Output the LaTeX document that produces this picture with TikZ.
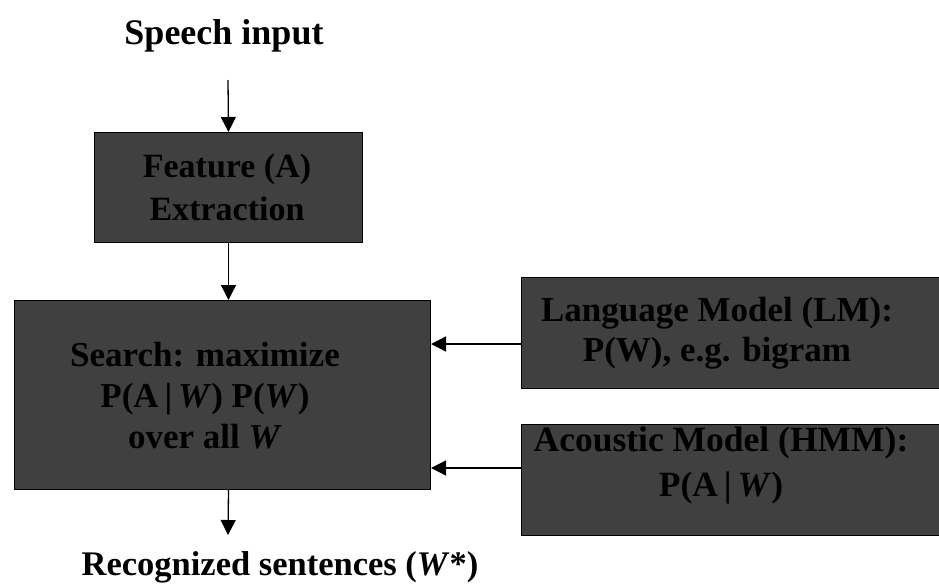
\documentclass[tikz,border=0pt]{standalone}
\usepackage{fontspec}
\setmainfont{Liberation Serif}
\usetikzlibrary{positioning,arrows.meta}
\definecolor{boxgray}{RGB}{64,64,64}

\begin{document}
\begin{tikzpicture}[x=1pt,y=-1pt,
    box/.style={draw=black, fill=boxgray, line width=1pt, anchor=north west, inner sep=0pt},
    lbl/.style={font=\fontsize{35}{41}\selectfont\bfseries, align=center, inner sep=0pt},
    arr/.style={line width=1.3pt, -{Triangle[width=15pt,length=15pt]}}]
	\useasboundingbox (0,0) rectangle (939,587);
	\clip (0,0) rectangle (939,587);
	% boxes
	\node[box, minimum width=268pt, minimum height=110pt] (feat) at (94,132) {};
	\node[box, minimum width=416pt, minimum height=189pt] (search) at (14,300) {};
	\node[box, minimum width=480pt, minimum height=111pt] (lm) at (521,277) {};
	\node[box, minimum width=480pt, minimum height=111pt] (am) at (521,424) {};
	% texts
	\node[lbl, font=\fontsize{36}{42}\selectfont\bfseries] (speech) at (224,36) {Speech input};
	\node[lbl, font=\fontsize{34}{43}\selectfont\bfseries] (feattxt) at (227,187) {Feature (A)\\Extraction};
	\node[lbl] (searchtxt) at (205,396) {Search: maximize\\P(A\,|\,\textit{W}) P(\textit{W})\\over all \textit{W}};
	\node[lbl, font=\fontsize{35}{40}\selectfont\bfseries] (lmtxt) at (717,333) {Language Model (LM):\\P(W), e.g. bigram};
	\node[lbl, font=\fontsize{35.5}{45}\selectfont\bfseries] (amtxt) at (721,466) {Acoustic Model (HMM):\\P(A\,|\,\textit{W})};
	\node[lbl, font=\fontsize{34.5}{40}\selectfont\bfseries] (recog) at (280,567) {Recognized sentences (\textit{W}*)};
	% connectors
	\coordinate (speechout) at (228,80);
	\coordinate (outend) at (228,535);
	\coordinate (lmin) at (521,344);
	\coordinate (amin) at (521,468);
	\draw[arr] (speechout) -- (feat.north);
	\draw[arr] (feat.south) -- (feat.south |- search.north);
	\draw[arr] (feat.south |- search.south) -- (outend);
	\draw[arr] (lmin) -- (search.east |- lmin);
	\draw[arr] (amin) -- (search.east |- amin);
\end{tikzpicture}
\end{document}
